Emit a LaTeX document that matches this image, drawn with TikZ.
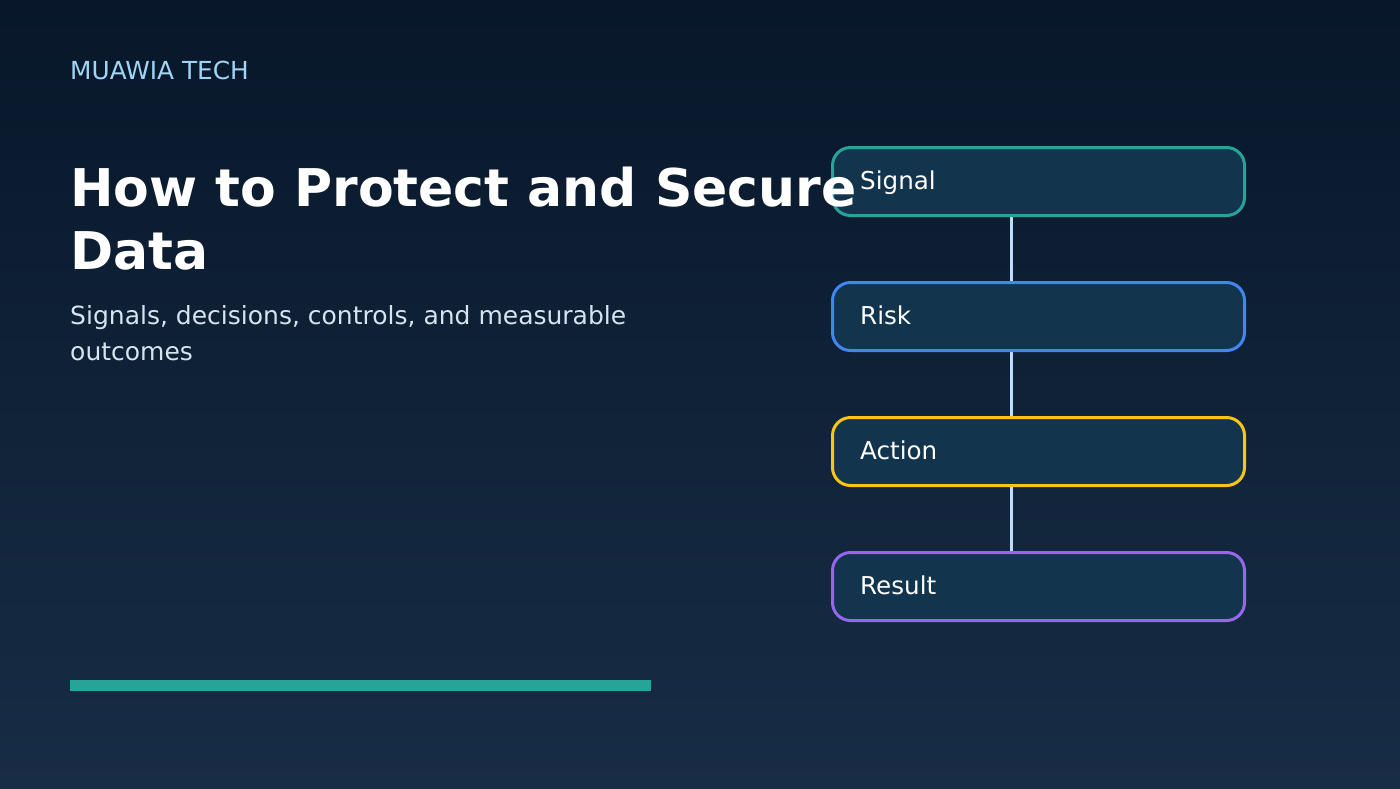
\documentclass[tikz,border=0pt]{standalone}
\usepackage{fontspec}
\setmainfont{DejaVu Sans}
\definecolor{bgtop}{RGB}{8,23,42}
\definecolor{bgbot}{RGB}{23,45,69}
\definecolor{boxfill}{RGB}{18,52,76}
\definecolor{cteal}{RGB}{38,164,152}
\definecolor{cblue}{RGB}{66,133,244}
\definecolor{cyellow}{RGB}{250,197,21}
\definecolor{cpurple}{RGB}{150,102,240}
\definecolor{clink}{RGB}{191,219,254}
\definecolor{ceyebrow}{RGB}{160,214,245}
\definecolor{csub}{RGB}{214,228,240}
\pgfdeclarelayer{back}
\pgfsetlayers{back,main}
\tikzset{
  stagebox/.style={draw, line width=3pt, fill=boxfill, rounded corners=18pt,
    minimum width=412pt, minimum height=68pt, inner sep=0pt, outer sep=0pt, anchor=north west},
  stagelabel/.style={anchor=base west, inner sep=0pt, text=white, font=\fontsize{24.6}{28}\selectfont},
  link/.style={draw=clink, line width=3pt},
  plain/.style={anchor=base west, inner sep=0pt}
}
\begin{document}
\begin{tikzpicture}[x=1pt,y=-1pt]
\useasboundingbox (0,0) rectangle (1400,788);
\begin{pgfonlayer}{back}
\shade[top color=bgtop, bottom color=bgbot] (0,0) rectangle (1400,788);
\end{pgfonlayer}
% boxes
\node[stagebox, draw=cteal]   (signal) at (832.5,147.5) {};
\node[stagebox, draw=cblue]   (risk)   at (832.5,282.5) {};
\node[stagebox, draw=cyellow] (action) at (832.5,417.5) {};
\node[stagebox, draw=cpurple] (result) at (832.5,552.5) {};
\begin{pgfonlayer}{back}
\draw[link] ([xshift=-27.5pt]signal.south) -- ([xshift=-27.5pt]risk.north);
\draw[link] ([xshift=-27.5pt]risk.south) -- ([xshift=-27.5pt]action.north);
\draw[link] ([xshift=-27.5pt]action.south) -- ([xshift=-27.5pt]result.north);
\end{pgfonlayer}
\node[stagelabel] (ls) at (860,189) {Signal};
\node[stagelabel] (lr) at (860,324) {Risk};
\node[stagelabel] (la) at (860,459) {Action};
\node[stagelabel] (lres) at (860,594) {Result};
% left texts
\node[plain, text=ceyebrow, font=\fontsize{24.8}{28}\selectfont] (brand) at (70,79) {MUAWIA TECH};
\node[plain, text=white, font=\fontsize{52}{63}\selectfont\bfseries] (title1) at (70,206) {How to Protect and Secure};
\node[plain, text=white, font=\fontsize{52}{63}\selectfont\bfseries] (title2) at (70,269) {Data};
\node[plain, text=csub, font=\fontsize{25}{36}\selectfont] (sub1) at (70,324) {Signals, decisions, controls, and measurable};
\node[plain, text=csub, font=\fontsize{25}{36}\selectfont] (sub2) at (70,360) {outcomes};
\fill[cteal] (70,680) rectangle (651,691);
\end{tikzpicture}
\end{document}
